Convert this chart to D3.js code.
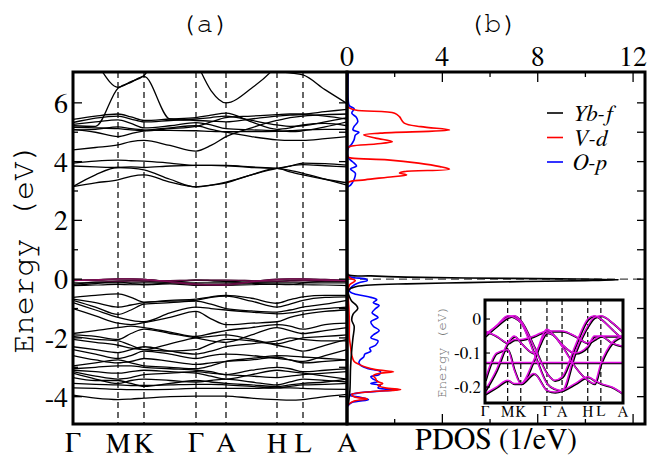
<!DOCTYPE html>
<html><head><meta charset="utf-8">
<script src="https://cdn.jsdelivr.net/npm/d3@7"></script>
<style>body{margin:0;background:#fff}svg{display:block}</style>
</head><body>
<svg id="c" width="650" height="461"></svg>
<script>
// ---------- DATA ----------
const kLabels = ["Γ","M","K","Γ","A","H","L","A"];
const kDist = [0,45,71,123,153,204,230,274];
// sample grid along path: high-symmetry points and midpoints
const kGrid = [0,22.5,45,58,71,97,123,138,153,178.5,204,217,230,252,274];

const conductionBands = [
  [3.15,3.28,3.38,3.50,3.55,3.30,3.14,3.20,3.28,3.55,3.77,3.65,3.55,3.40,3.28],
  [3.15,3.55,3.80,3.78,3.72,3.40,3.14,3.20,3.30,3.55,3.77,3.85,3.90,3.86,3.82],
  [3.85,3.82,3.80,3.82,3.80,3.85,3.87,3.87,3.87,3.82,3.77,3.70,3.60,3.40,3.20],
  [3.95,4.02,4.05,4.03,4.02,3.95,3.87,3.87,3.86,3.80,3.77,3.85,3.95,3.93,3.88],
  [4.40,4.48,4.57,4.68,4.72,4.55,4.36,4.55,4.85,5.15,5.40,5.50,5.55,5.60,5.62],
  [5.10,5.00,4.85,4.95,5.05,5.15,5.22,5.10,5.00,4.85,4.74,4.72,4.72,4.78,4.85],
  [5.17,5.15,5.12,5.08,5.05,5.12,5.20,5.35,5.50,5.55,5.60,5.62,5.62,5.70,5.78],
  [5.27,5.35,5.42,5.30,5.15,5.22,5.33,5.25,5.12,5.08,5.05,5.02,5.05,5.18,5.35],
  [5.33,5.48,5.55,5.45,5.35,5.40,5.45,5.50,5.55,5.40,5.25,5.20,5.22,5.35,5.50],
  [5.44,5.55,5.62,5.52,5.40,5.45,5.50,5.58,5.65,5.35,5.10,5.15,5.25,5.30,5.22],
  [5.08,5.10,5.18,5.12,5.08,5.06,5.05,5.03,5.02,5.02,5.03,5.05,5.08,5.10,5.10],
  [5.22,5.20,6.50,6.70,6.90,5.45,5.40,5.38,5.35,5.45,5.55,5.58,5.60,5.55,5.45],
  [8.50,7.40,6.53,6.72,6.93,8.50,9.00,9.00,9.00,9.00,9.00,9.00,9.00,9.00,9.00],
  [9.00,9.00,9.00,9.00,9.00,9.00,7.40,6.42,6.00,6.50,7.30,8.00,8.50,9.00,9.00],
  [9.00,9.00,9.00,9.00,9.00,9.00,9.00,9.00,9.00,8.00,7.08,7.02,6.95,6.45,5.98]
];

const valenceBands = [
  [-0.62,-0.55,-0.50,-0.62,-0.78,-0.72,-0.68,-0.60,-0.55,-0.65,-0.82,-0.70,-0.60,-0.55,-0.55],
  [-0.68,-0.80,-0.95,-0.88,-0.80,-0.75,-0.72,-0.62,-0.58,-0.75,-0.95,-0.85,-0.72,-0.62,-0.60],
  [-0.72,-0.95,-1.20,-1.05,-0.85,-0.80,-0.75,-0.85,-1.00,-1.08,-1.12,-1.05,-0.95,-0.85,-0.72],
  [-0.80,-1.05,-1.30,-1.40,-1.45,-1.15,-0.95,-1.00,-1.05,-1.12,-1.18,-1.15,-1.08,-1.00,-0.95],
  [-1.00,-1.25,-1.50,-1.55,-1.48,-1.30,-1.10,-1.35,-1.55,-1.50,-1.45,-1.30,-1.20,-1.10,-1.05],
  [-1.85,-1.75,-1.65,-1.60,-1.65,-1.80,-1.95,-1.85,-1.75,-1.65,-1.55,-1.60,-1.70,-1.55,-1.50],
  [-1.90,-1.95,-2.05,-1.85,-1.70,-1.85,-2.00,-2.10,-2.15,-1.90,-1.65,-1.75,-1.85,-1.75,-1.65],
  [-1.95,-2.05,-2.10,-2.25,-2.40,-2.20,-2.00,-1.95,-1.90,-2.05,-2.20,-2.10,-2.00,-1.95,-1.90],
  [-2.05,-2.15,-2.25,-2.35,-2.40,-2.45,-2.40,-2.20,-2.05,-2.10,-2.25,-2.35,-2.45,-2.25,-2.05],
  [-2.30,-2.40,-2.50,-2.40,-2.30,-2.45,-2.55,-2.45,-2.30,-2.20,-2.10,-2.00,-2.05,-2.10,-2.10],
  [-2.40,-2.55,-2.70,-2.60,-2.45,-2.55,-2.70,-2.60,-2.55,-2.60,-2.70,-2.75,-2.80,-2.60,-2.40],
  [-2.60,-2.75,-2.85,-2.80,-2.70,-2.80,-2.90,-2.85,-2.80,-2.75,-2.65,-2.75,-2.85,-2.80,-2.75],
  [-2.95,-2.85,-2.75,-2.85,-2.95,-3.00,-3.05,-2.95,-2.80,-2.70,-2.60,-2.62,-2.65,-2.70,-2.75],
  [-3.05,-3.00,-2.95,-2.95,-3.00,-3.05,-3.10,-3.15,-3.25,-3.10,-3.00,-3.05,-3.15,-3.10,-3.05],
  [-3.10,-3.15,-3.20,-3.15,-3.10,-3.15,-3.20,-3.30,-3.40,-3.25,-3.10,-3.15,-3.20,-3.30,-3.40],
  [-3.15,-3.30,-3.40,-3.35,-3.25,-3.20,-3.15,-3.20,-3.25,-3.30,-3.35,-3.30,-3.25,-3.20,-3.15],
  [-3.20,-3.40,-3.55,-3.45,-3.40,-3.45,-3.50,-3.45,-3.40,-3.50,-3.60,-3.50,-3.40,-3.45,-3.50],
  [-3.35,-3.45,-3.45,-3.55,-3.65,-3.55,-3.45,-3.50,-3.55,-3.60,-3.65,-3.60,-3.55,-3.50,-3.40],
  [-3.55,-3.58,-3.60,-3.62,-3.62,-3.60,-3.58,-3.58,-3.60,-3.65,-3.70,-3.65,-3.60,-3.58,-3.55],
  [-3.70,-3.72,-3.75,-3.76,-3.76,-3.75,-3.72,-3.72,-3.72,-3.72,-3.70,-3.70,-3.72,-3.74,-3.75],
  [-3.95,-4.05,-4.10,-4.08,-4.05,-4.00,-3.98,-3.98,-3.98,-4.05,-4.10,-4.12,-4.10,-4.00,-3.92]
];

// Yb-f flat bands near the Fermi level (also shown in the inset)
const fBands = [
  [-0.045,-0.020,0.010,0.005,-0.010,-0.100,-0.190,-0.205,-0.210,-0.100,-0.020,0.005,0.010,-0.010,-0.040],
  [-0.050,-0.020,0.005,0.010,-0.005,-0.080,-0.160,-0.180,-0.170,-0.080,0.000,0.010,0.000,-0.030,-0.060],
  [-0.035,-0.050,-0.070,-0.060,-0.060,-0.050,-0.035,-0.035,-0.035,-0.050,-0.070,-0.060,-0.050,-0.050,-0.050],
  [-0.210,-0.150,-0.070,-0.050,-0.070,-0.100,-0.040,-0.050,-0.075,-0.100,-0.080,-0.050,-0.050,-0.070,-0.080],
  [-0.128,-0.128,-0.128,-0.128,-0.128,-0.128,-0.128,-0.128,-0.128,-0.128,-0.128,-0.128,-0.128,-0.128,-0.128],
  [-0.180,-0.100,-0.090,-0.150,-0.190,-0.120,-0.030,-0.050,-0.080,-0.140,-0.180,-0.190,-0.130,-0.070,-0.050],
  [-0.220,-0.200,-0.180,-0.190,-0.190,-0.160,-0.210,-0.215,-0.210,-0.190,-0.170,-0.180,-0.190,-0.200,-0.220]
];

// PDOS (1/eV) versus energy (eV)
const ybfE = [-4.3,-3.8,-3.0,-2.4,-2.0,-1.6,-1.4,-1.2,-1.0,-0.9,-0.75,-0.6,-0.45,-0.35,-0.3,-0.25,-0.2,-0.16,-0.12,-0.08,-0.05,-0.02,0.01,0.04,0.07,0.11,0.15,0.3,3.0,7.1];
const ybfV = [0.05,0.12,0.15,0.2,0.25,0.3,0.2,0.25,0.45,0.4,0.2,0.1,0.05,0.1,0.2,0.4,1.0,2.5,5.0,7.5,10.0,11.4,9.0,5.0,2.5,1.0,0.05,0,0,0];

const vdE = [-4.3,-4.15,-4.08,-4.0,-3.92,-3.83,-3.76,-3.7,-3.62,-3.55,-3.47,-3.38,-3.28,-3.2,-3.15,-3.08,-3.0,-2.9,-2.8,-2.6,-2.3,-2.0,-1.5,-1.0,-0.5,-0.2,-0.05,0.05,0.2,3.1,3.29,3.38,3.47,3.55,3.61,3.66,3.74,3.83,3.95,4.06,4.12,4.17,4.46,4.53,4.6,4.68,4.8,4.91,4.97,5.08,5.19,5.31,5.53,5.65,5.76,5.87,6.0,7.1];
const vdV = [0,0.3,0.85,0.3,0.2,1.0,2.25,1.6,1.3,1.5,1.25,1.2,1.1,1.4,1.95,1.2,0.8,0.5,0.3,0.2,0.15,0.1,0.1,0.08,0.05,0.1,0.35,0.1,0,0,0.05,0.75,1.7,2.5,2.2,2.4,4.3,3.9,3.0,1.7,0.2,0.02,0.02,0.2,1.2,1.9,1.2,0.7,1.4,4.3,3.1,2.4,2.2,2.0,0.35,0.03,0,0];

const opE = [-4.35,-4.2,-4.1,-4.03,-3.95,-3.87,-3.8,-3.76,-3.7,-3.62,-3.55,-3.48,-3.4,-3.32,-3.25,-3.15,-3.05,-2.95,-2.85,-2.75,-2.65,-2.55,-2.45,-2.35,-2.25,-2.1,-2.0,-1.9,-1.75,-1.6,-1.45,-1.3,-1.15,-1.0,-0.9,-0.8,-0.7,-0.6,-0.5,-0.4,-0.3,-0.2,-0.12,-0.05,0.0,0.05,0.1,0.2,3.1,3.2,3.4,3.6,3.75,3.85,3.95,4.05,4.15,4.45,4.6,4.75,4.9,5.0,5.08,5.2,5.35,5.5,5.65,5.8,5.9,6.1,7.1];
const opV = [0,0.2,0.9,0.6,0.1,0.5,1.6,2.15,1.3,1.4,1.0,1.3,1.1,1.0,1.35,1.4,0.9,0.6,0.5,0.55,0.7,0.75,1.0,0.95,1.2,1.3,1.0,1.1,1.35,1.1,1.0,1.3,1.05,1.2,1.35,1.1,1.25,0.9,0.3,0.1,0.15,0.3,0.5,0.85,0.8,0.3,0.05,0,0,0.15,0.3,0.35,0.15,0.4,0.3,0.15,0.05,0.05,0.2,0.3,0.35,0.5,0.25,0.3,0.45,0.4,0.2,0.3,0.1,0.05,0.05];

const pdosSeries = [
  {name:"Yb-f", E:ybfE, V:ybfV, color:"#000000"},
  {name:"V-d",  E:vdE,  V:vdV,  color:"#ff0000"},
  {name:"O-p",  E:opE,  V:opV,  color:"#0000ff"}
];
const energyTicks = [-4,-2,0,2,4,6];
const pdosTicks = [0,4,8,12];
const insetTicks = [0,-0.1,-0.2];

// ---------- LAYOUT ----------
const svg = d3.select("#c");
const serif = '"Nimbus Roman", "FreeSerif", "Liberation Serif", serif';
const mono = '"FreeMono", "Nimbus Mono PS", "Liberation Mono", monospace';
const A = {x0:73, x1:347, y0:72, y1:424};
const B = {x0:347, x1:645};
const I = {x0:485, x1:623, y0:300, y1:403};

function txt(x, y, s, size, fam, anchor){
  return svg.append("text").attr("x",x).attr("y",y).attr("text-anchor",anchor||"middle")
    .style("font-family",fam).style("font-size",size+"px").text(s);
}

const ey = d3.scaleLinear().domain([-4.93,7.05]).range([A.y1,A.y0]);
const kx = d3.scaleLinear().domain([0,274]).range([A.x0,A.x1]);
const px = d3.scaleLinear().domain([0,12.5]).range([B.x0,B.x1]);
const ikx = d3.scaleLinear().domain([0,274]).range([I.x0,I.x1]);
const iey = d3.scaleLinear().domain([-0.247,0.056]).range([I.y1,I.y0]);

const defs = svg.append("defs");
defs.append("clipPath").attr("id","clipA").append("rect").attr("x",A.x0).attr("y",A.y0).attr("width",A.x1-A.x0).attr("height",A.y1-A.y0);
defs.append("clipPath").attr("id","clipB").append("rect").attr("x",B.x0).attr("y",A.y0).attr("width",B.x1-B.x0).attr("height",A.y1-A.y0);
defs.append("clipPath").attr("id","clipI").append("rect").attr("x",I.x0).attr("y",I.y0).attr("width",I.x1-I.x0).attr("height",I.y1-I.y0);

// ---------- PANEL A ----------
const gA = svg.append("g").attr("clip-path","url(#clipA)");
gA.selectAll("line.dash").data(kDist.slice(1,-1)).join("line")
  .attr("x1",d=>kx(d)).attr("x2",d=>kx(d)).attr("y1",A.y0).attr("y2",A.y1)
  .attr("stroke","#000").attr("stroke-width",1.2).attr("stroke-dasharray","6,4");

const bandLine = d3.line().x((d,i)=>kx(kGrid[i])).y(d=>ey(d)).curve(d3.curveMonotoneX);
gA.selectAll("path.band").data(conductionBands.concat(valenceBands)).join("path")
  .attr("d",bandLine).attr("fill","none").attr("stroke","#000").attr("stroke-width",1.3);
gA.selectAll("path.fb").data(fBands).join("path")
  .attr("d",bandLine).attr("fill","none").attr("stroke","#000").attr("stroke-width",1.2);
gA.selectAll("path.fm").data(fBands.slice(0,3)).join("path")
  .attr("d",bandLine).attr("fill","none").attr("stroke","#a0106a").attr("stroke-opacity",0.6).attr("stroke-width",1.2);

// ---------- PANEL B ----------
const gB = svg.append("g").attr("clip-path","url(#clipB)");
gB.append("line").attr("x1",B.x0).attr("x2",B.x1).attr("y1",ey(0)).attr("y2",ey(0))
  .attr("stroke","#444").attr("stroke-width",1.2).attr("stroke-dasharray","8,5");
const pdosLine = d3.line().curve(d3.curveCatmullRom.alpha(0.5));
gB.selectAll("path.pd").data([pdosSeries[2],pdosSeries[1],pdosSeries[0]]).join("path")
  .attr("d",s=>pdosLine(s.E.map((e,i)=>[px(s.V[i]),ey(e)])))
  .attr("fill","none").attr("stroke",s=>s.color).attr("stroke-width",1.6);

// legend
pdosSeries.forEach((s,i)=>{
  const y = 113 + i*24.5;
  svg.append("line").attr("x1",547).attr("x2",563).attr("y1",y).attr("y2",y).attr("stroke",s.color).attr("stroke-width",1.6);
  txt(573, y+8, s.name, 23, serif, "start").style("font-style","italic");
});

// ---------- INSET ----------
svg.append("rect").attr("x",I.x0).attr("y",I.y0).attr("width",I.x1-I.x0).attr("height",I.y1-I.y0).attr("fill","#fff");
const gI = svg.append("g").attr("clip-path","url(#clipI)");
gI.selectAll("line").data(kDist.slice(1,-1)).join("line")
  .attr("x1",d=>ikx(d)).attr("x2",d=>ikx(d)).attr("y1",I.y0).attr("y2",I.y1)
  .attr("stroke","#000").attr("stroke-width",1.2).attr("stroke-dasharray","5,3");
const iLine = d3.line().x((d,i)=>ikx(kGrid[i])).y(d=>iey(d)).curve(d3.curveMonotoneX);
gI.selectAll("path.ib").data(fBands).join("path").attr("d",iLine)
  .attr("transform","translate(0.8,0.8)")
  .attr("fill","none").attr("stroke","#000").attr("stroke-width",1.8);
gI.selectAll("path.im").data(fBands).join("path").attr("d",iLine)
  .attr("fill","none").attr("stroke","#e010e0").attr("stroke-width",1.5);
svg.append("rect").attr("x",I.x0).attr("y",I.y0).attr("width",I.x1-I.x0).attr("height",I.y1-I.y0)
  .attr("fill","none").attr("stroke","#000").attr("stroke-width",3);
insetTicks.forEach(t=>{
  svg.append("line").attr("x1",I.x0).attr("x2",I.x0+5).attr("y1",iey(t)).attr("y2",iey(t)).attr("stroke","#000").attr("stroke-width",1.2);
  txt(481, iey(t)+6, t===0?"0":d3.format(".1f")(t).replace("−","-"), 17, serif, "end");
});
svg.append("text").attr("transform",`translate(446,${(I.y0+I.y1)/2}) rotate(-90)`).attr("text-anchor","middle")
  .style("font-family",mono).style("font-size","14px").attr("fill","#777").text("Energy (eV)");
kLabels.forEach((l,i)=>{ txt(ikx(kDist[i]), 416, l, 15, serif); });

// ---------- FRAMES & TICKS ----------
svg.append("rect").attr("x",A.x0).attr("y",A.y0).attr("width",A.x1-A.x0).attr("height",A.y1-A.y0)
  .attr("fill","none").attr("stroke","#000").attr("stroke-width",3);
svg.append("rect").attr("x",B.x0).attr("y",A.y0).attr("width",B.x1-B.x0).attr("height",A.y1-A.y0)
  .attr("fill","none").attr("stroke","#000").attr("stroke-width",3);

const tk = svg.append("g").attr("stroke","#000").attr("stroke-width",1.3);
d3.range(-4,8,1).forEach(e=>{
  if (ey(e) < A.y0+2) return;
  const major = e%2===0;
  tk.append("line").attr("x1",A.x0).attr("x2",A.x0+(major?9:5)).attr("y1",ey(e)).attr("y2",ey(e));
  tk.append("line").attr("x1",A.x1).attr("x2",A.x1-8).attr("y1",ey(e)).attr("y2",ey(e));
  tk.append("line").attr("x1",B.x1).attr("x2",B.x1-8).attr("y1",ey(e)).attr("y2",ey(e));
});
d3.range(2,13,2).forEach(v=>{
  const L = v%4===0?10:5;
  tk.append("line").attr("x1",px(v)).attr("x2",px(v)).attr("y1",A.y0).attr("y2",A.y0+L);
  tk.append("line").attr("x1",px(v)).attr("x2",px(v)).attr("y1",A.y1).attr("y2",A.y1-L);
});

// tick labels
energyTicks.forEach(e=>{ txt(68, ey(e)+10, e<0?"-"+Math.abs(e):String(e), 28, serif, "end"); });
pdosTicks.forEach(v=>{ txt(px(v), 66, String(v), 28, serif); });
kLabels.forEach((l,i)=>{ txt(kx(kDist[i]), 452, l, 28, serif); });
txt(496, 449, "PDOS (1/eV)", 30, serif);
svg.append("text").attr("transform",`translate(33,${(A.y0+A.y1)/2}) rotate(-90)`).attr("text-anchor","middle")
  .style("font-family",mono).style("font-size","32px").text("Energy (eV)");
txt(205, 32, "(a)", 28, mono);
txt(493, 32, "(b)", 28, mono);
</script>
</body></html>
